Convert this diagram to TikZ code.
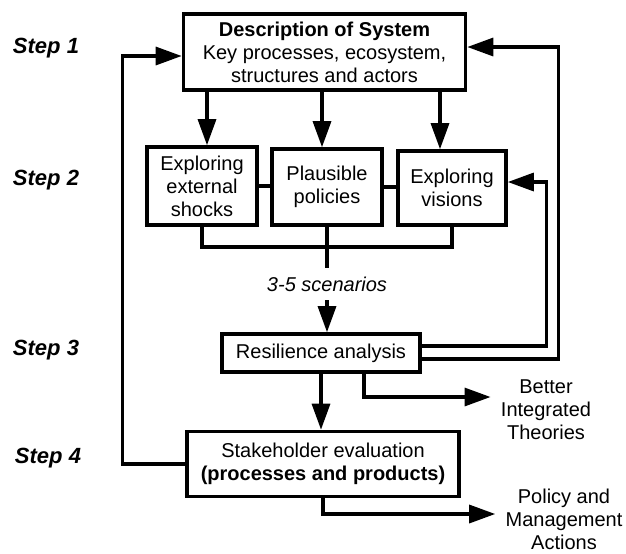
\documentclass[tikz,border=0pt]{standalone}
\usepackage{fontspec}
\setmainfont{Liberation Sans}
\usepackage{tikz}
\usetikzlibrary{arrows.meta}

\tikzset{
  box/.style={draw, line width=1.8pt, align=center, inner sep=1pt,
    font=\fontsize{10}{11.5}\selectfont},
  line/.style={line width=1.6pt},
  arr/.style={line width=1.6pt, -{Triangle[length=13pt,width=9pt]}},
  steplabel/.style={font=\fontsize{11}{13}\selectfont\bfseries\itshape},
  outtext/.style={align=center, inner sep=5pt, font=\fontsize{10}{11.5}\selectfont}
}

\begin{document}
\begin{tikzpicture}[x=0.5pt, y=-0.5pt]
  \useasboundingbox (0,0) rectangle (626,553);
  % Step labels
  \node[steplabel] (s1) at (46,48) {Step 1};
  \node[steplabel] (s2) at (46,180) {Step 2};
  \node[steplabel] (s3) at (46,350) {Step 3};
  \node[steplabel] (s4) at (48,458) {Step 4};
  % Boxes
  \node[box, minimum width=141pt, minimum height=38pt] (sys) at (324.5,52)
    {\textbf{Description of System}\\Key processes, ecosystem,\\structures and actors};
  \node[box, minimum width=55pt, minimum height=39pt] (shocks) at (202,186)
    {Exploring\\external\\shocks};
  \node[box, minimum width=55pt, minimum height=38pt] (policies) at (327,187)
    {Plausible\\policies};
  \node[box, minimum width=54pt, minimum height=37pt] (visions) at (452,188)
    {Exploring\\visions};
  \node[font=\fontsize{10}{11.5}\selectfont\itshape] (scen) at (327,284) {3-5 scenarios};
  \node[box, minimum width=99pt, minimum height=19pt] (resil) at (321,353)
    {Resilience analysis};
  \node[box, minimum width=136pt, minimum height=32.5pt] (stake) at (323,464)
    {Stakeholder evaluation\\\textbf{(processes and products)}};
  \node[outtext] (theories) at (546,410) {Better\\Integrated\\Theories};
  \node[outtext] (actions) at (564,519) {Policy and\\Management\\Actions};
  \coordinate (join) at (327,247);
  % Step 1 to step 2
  \draw[arr] ([xshift=2.5pt]sys.south -| shocks.north) -- ([xshift=2.5pt]shocks.north);
  \draw[arr] ([xshift=-2.5pt]sys.south -| policies.north) -- ([xshift=-2.5pt]policies.north);
  \draw[arr] ([xshift=-6pt]sys.south -| visions.north) -- ([xshift=-6pt]visions.north);
  \draw[line] (shocks.east) -- (shocks.east -| policies.west);
  \draw[line] (policies.east) -- (policies.east -| visions.west);
  % Scenarios
  \draw[line] (shocks.south) |- (join) -| (visions.south);
  \draw[line] (policies.south) -- (join) -- ([yshift=1pt]join |- scen.north);
  \draw[arr] ([yshift=-1pt]scen.south) -- (scen.south |- resil.north);
  % Feedback loops
  \draw[arr] ([yshift=3.5pt]resil.east) -- ++(125,0) |- ([yshift=3pt]visions.east);
  \draw[arr] ([yshift=-3pt]resil.east) -- ++(137,0) |- ([yshift=2.5pt]sys.east);
  \draw[arr] (stake.west) -- ++(-63,0) |- ([yshift=-2pt]sys.west);
  % Outputs
  \draw[arr] (resil.south) -- (resil.south |- stake.north);
  \draw[arr] ([xshift=21.5pt]resil.south) |- ([yshift=6.5pt]theories.west);
  \draw[arr] (stake.south) |- ([yshift=2.5pt]actions.west);
\end{tikzpicture}
\end{document}
